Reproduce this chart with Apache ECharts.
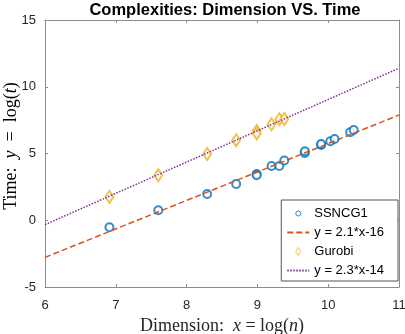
<!DOCTYPE html>
<html>
<head>
<meta charset="utf-8">
<script src="https://cdn.jsdelivr.net/npm/echarts@6/dist/echarts.min.js"></script>
<style>
html, body { margin: 0; padding: 0; background: #fff; }
#main { width: 405px; height: 334px; }
</style>
</head>
<body>
<div id="main"></div>
<script>
// x = log(n), y = log(t)
var ssncgX = [6.91, 7.60, 8.29, 8.70, 8.99, 8.99, 9.20, 9.31, 9.38, 9.67, 9.67, 9.90, 9.90, 10.03, 10.09, 10.31, 10.36];
var ssncgY = [-0.52, 0.75, 1.97, 2.72, 3.47, 3.37, 4.07, 4.07, 4.47, 5.04, 5.17, 5.64, 5.71, 5.92, 6.09, 6.59, 6.76];
var gurobiX = [6.91, 7.60, 8.29, 8.70, 8.99, 8.99, 9.20, 9.31, 9.38];
var gurobiY = [1.75, 3.37, 4.97, 6.00, 6.69, 6.49, 7.19, 7.57, 7.59];
// fitted lines, end points at x = 6 and x = 11
var fitX = [6, 11];
var fitSsncgY = [-2.78, 7.88];
var fitGurobiY = [-0.33, 11.39];
var names = ['SSNCG1', 'y = 2.1*x-16', 'Gurobi', 'y = 2.3*x-14'];

function pairs(xs, ys) {
	return xs.map(function(x, i) { return [x, ys[i]]; });
}

var myChart = echarts.init(document.getElementById('main'));
var axisColor = '#8c8c8c';
var serif = 'Liberation Serif';
var labelRich = {
	r: { fontFamily: serif, fontSize: 18, color: '#262626' },
	i: { fontFamily: serif, fontSize: 18, fontStyle: 'italic', color: '#262626' }
};
// legend markers, the circle one has some empty room around it so it comes out small
var circlePath = 'path://M-3,-3L-3,-3M13,13L13,13M0,5A5,5,0,1,0,10,5A5,5,0,1,0,0,5Z';
var diamondPath = 'path://M5,0L10,8L5,16L0,8Z';
var option = {
	animation: false,
	title: {
		text: 'Complexities: Dimension VS. Time',
		left: 220,
		textAlign: 'center',
		top: -3,
		textStyle: { fontFamily: 'Liberation Sans', fontWeight: 'bold', fontSize: 16.5, color: '#000' }
	},
	graphic: [{
		type: 'text',
		x: 11,
		y: 146,
		rotation: Math.PI / 2,
		style: {
			text: '{r|Time:  }{i|y}{r|  =  log(}{i|t}{r|)}',
			rich: labelRich,
			align: 'center',
			verticalAlign: 'middle'
		}
	}],
	legend: {
		orient: 'vertical',
		right: 7,
		top: 200,
		data: [
			{ name: names[0], icon: circlePath, itemStyle: { color: '#fff', borderColor: '#0072BD', borderWidth: 1 } },
			{ name: names[1], itemStyle: { opacity: 0 } },
			{ name: names[2], icon: diamondPath, itemStyle: { color: '#fff', borderColor: '#EDB120', borderWidth: 1 } },
			{ name: names[3], itemStyle: { opacity: 0 } }
		],
		itemWidth: 22,
		itemHeight: 8,
		itemGap: 2,
		padding: [5, 14, 2, 5],
		borderColor: '#555',
		borderWidth: 1,
		borderRadius: 0,
		backgroundColor: '#fff',
		textStyle: { fontFamily: 'Liberation Sans', fontSize: 13, lineHeight: 17, color: '#000' }
	},
	grid: { left: 45, right: 6, top: 20, bottom: 47, outerBoundsMode: 'none', containLabel: false },
	xAxis: [{
		type: 'value', min: 6, max: 11, interval: 1,
		name: '{r|Dimension:  }{i|x}{r| = log(}{i|n}{r|)}',
		nameLocation: 'middle', nameGap: 30,
		nameTextStyle: { rich: labelRich },
		axisLine: { onZero: false, lineStyle: { color: axisColor } },
		axisTick: { inside: true, length: 3, lineStyle: { color: axisColor } },
		axisLabel: { fontFamily: 'Liberation Sans', fontSize: 13, color: '#262626', margin: 12 },
		splitLine: { show: false }
	}, {
		type: 'value', min: 6, max: 11, interval: 1, position: 'top',
		axisLine: { onZero: false, lineStyle: { color: axisColor } },
		axisTick: { inside: true, length: 3, lineStyle: { color: axisColor } },
		axisLabel: { show: false },
		splitLine: { show: false }
	}],
	yAxis: [{
		type: 'value', min: -5, max: 15, interval: 5,
		axisLine: { onZero: false, lineStyle: { color: axisColor } },
		axisTick: { inside: true, length: 3, lineStyle: { color: axisColor } },
		axisLabel: { fontFamily: 'Liberation Sans', fontSize: 13, color: '#262626', margin: 9 },
		splitLine: { show: false }
	}, {
		type: 'value', min: -5, max: 15, interval: 5, position: 'right',
		axisLine: { onZero: false, lineStyle: { color: axisColor } },
		axisTick: { inside: true, length: 3, lineStyle: { color: axisColor } },
		axisLabel: { show: false },
		splitLine: { show: false }
	}],
	series: [{
		name: names[0],
		type: 'scatter',
		symbol: 'emptyCircle',
		symbolSize: 8,
		itemStyle: { color: '#0072BD', borderColor: '#0072BD', borderWidth: 1 },
		data: pairs(ssncgX, ssncgY)
	}, {
		name: names[1],
		type: 'line',
		symbol: 'none',
		lineStyle: { color: '#D95319', width: 1.5, type: [6, 3] },
		itemStyle: { color: '#D95319' },
		data: pairs(fitX, fitSsncgY)
	}, {
		name: names[2],
		type: 'scatter',
		symbol: 'emptyDiamond',
		symbolSize: [8, 12],
		itemStyle: { color: '#EDB120', borderColor: '#EDB120', borderWidth: 1 },
		data: pairs(gurobiX, gurobiY)
	}, {
		name: names[3],
		type: 'line',
		symbol: 'none',
		lineStyle: { color: '#7E2F8E', width: 1.5, type: [1.5, 1.5] },
		itemStyle: { color: '#7E2F8E' },
		data: pairs(fitX, fitGurobiY)
	}]
};
myChart.setOption(option);
</script>
</body>
</html>
